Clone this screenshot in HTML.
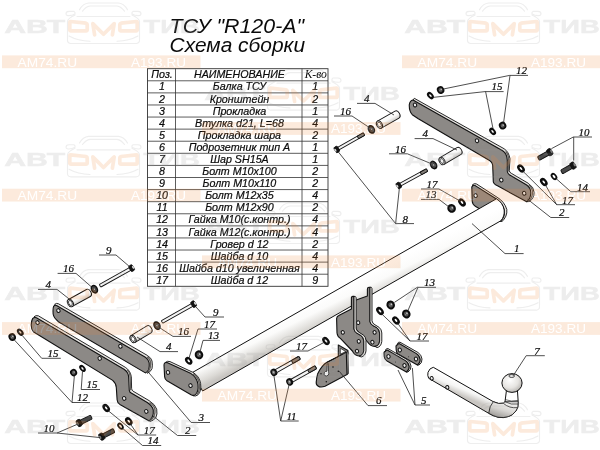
<!DOCTYPE html>
<html lang="ru"><head><meta charset="utf-8"><title>ТСУ R120-A Схема сборки</title>
<style>
html,body{margin:0;padding:0;background:#fff}
body{width:600px;height:450px;overflow:hidden;position:relative;font-family:"Liberation Sans",sans-serif}
svg{position:absolute;left:0;top:0;display:block;will-change:transform;transform:translateZ(0)}
.lb{font-family:"Liberation Serif",serif;font-style:italic;fill:#0a0a0a;stroke:#0a0a0a;stroke-width:.2px}
.ld{fill:none;stroke:#222;stroke-width:.8}
.tt{font-family:"Liberation Sans",sans-serif;font-style:italic;fill:#0a0a0a}
.tc{font-family:"Liberation Sans",sans-serif;font-style:italic;fill:#0a0a0a;font-size:10.7px;text-anchor:middle;stroke:#0a0a0a;stroke-width:.2px}
.ts{font-family:"Liberation Serif",serif;font-style:italic;fill:#0a0a0a;font-size:11.6px;text-anchor:middle}
.pl{fill:#8c8986;stroke:#111;stroke-width:1.1;stroke-linejoin:round}
.ed{fill:#e6e4e1;stroke:#111;stroke-width:.9;stroke-linejoin:round}
.wmg{font-family:"Liberation Sans",sans-serif;font-weight:bold;fill:#9a9a9a;stroke:#9a9a9a;stroke-width:.5}
.wmw{font-family:"Liberation Sans",sans-serif;fill:#fff}
</style></head><body>
<svg width="600" height="450" viewBox="0 0 600 450">
<defs>
<linearGradient id="gBeam" gradientUnits="userSpaceOnUse" x1="340" y1="288" x2="352" y2="312">
<stop offset="0" stop-color="#ffffff"/><stop offset=".4" stop-color="#fbfbfa"/><stop offset=".8" stop-color="#dcdad6"/><stop offset="1" stop-color="#c8c5c1"/></linearGradient>
<linearGradient id="gTubeS" x1="0" y1="0" x2="0" y2="1">
<stop offset="0" stop-color="#ffffff"/><stop offset=".5" stop-color="#f8f8f7"/><stop offset="1" stop-color="#cfccc8"/></linearGradient>
<linearGradient id="gShaft" gradientUnits="userSpaceOnUse" x1="460" y1="381" x2="455" y2="393">
<stop offset="0" stop-color="#ffffff"/><stop offset=".5" stop-color="#f6f6f5"/><stop offset="1" stop-color="#c9c6c2"/></linearGradient>
<linearGradient id="gBend" gradientUnits="userSpaceOnUse" x1="505" y1="402" x2="500" y2="418">
<stop offset="0" stop-color="#f4f3f2"/><stop offset=".5" stop-color="#d6d4d1"/><stop offset="1" stop-color="#9d9a96"/></linearGradient>
<radialGradient id="gBall" cx=".4" cy=".35" r=".75">
<stop offset="0" stop-color="#ffffff"/><stop offset=".55" stop-color="#e6e4e1"/><stop offset="1" stop-color="#a9a6a2"/></radialGradient>
</defs>
<rect width="600" height="450" fill="#fff"/>

<text x="169.6" y="32.5" class="tt" font-size="20" textLength="134.5" lengthAdjust="spacingAndGlyphs">ТСУ "R120-A"</text>
<text x="169.6" y="51.6" class="tt" font-size="20" textLength="135.5" lengthAdjust="spacingAndGlyphs">Схема сборки</text>
<g id="table">
<rect x="147.5" y="68.7" width="180.5" height="217.60000000000002" fill="#fff" stroke="#333" stroke-width=".9"/>
<path d="M147.5 80.79H328M147.5 92.88H328M147.5 104.97H328M147.5 117.06H328M147.5 129.14H328M147.5 141.23H328M147.5 153.32H328M147.5 165.41H328M147.5 177.50H328M147.5 189.59H328M147.5 201.68H328M147.5 213.77H328M147.5 225.86H328M147.5 237.94H328M147.5 250.03H328M147.5 262.12H328M147.5 274.21H328M175.5 68.7V286.3M302 68.7V286.3" fill="none" stroke="#333" stroke-width=".8"/>
<text x="162.10" y="78.39" class="tc">Поз.</text>
<text x="239.45" y="78.39" class="tc">НАИМЕНОВАНИЕ</text>
<text x="315.80" y="78.39" class="ts">К-во</text>
<text x="162.10" y="90.48" class="tc">1</text>
<text x="239.45" y="90.48" class="tc">Балка ТСУ</text>
<text x="315.30" y="90.48" class="tc">1</text>
<text x="162.10" y="102.57" class="tc">2</text>
<text x="239.45" y="102.57" class="tc">Кронштейн</text>
<text x="315.30" y="102.57" class="tc">2</text>
<text x="162.10" y="114.66" class="tc">3</text>
<text x="239.45" y="114.66" class="tc">Прокладка</text>
<text x="315.30" y="114.66" class="tc">1</text>
<text x="162.10" y="126.74" class="tc">4</text>
<text x="239.45" y="126.74" class="tc">Втулка d21, L=68</text>
<text x="315.30" y="126.74" class="tc">4</text>
<text x="162.10" y="138.83" class="tc">5</text>
<text x="239.45" y="138.83" class="tc">Прокладка шара</text>
<text x="315.30" y="138.83" class="tc">2</text>
<text x="162.10" y="150.92" class="tc">6</text>
<text x="239.45" y="150.92" class="tc">Подрозетник тип А</text>
<text x="315.30" y="150.92" class="tc">1</text>
<text x="162.10" y="163.01" class="tc">7</text>
<text x="239.45" y="163.01" class="tc">Шар SH15A</text>
<text x="315.30" y="163.01" class="tc">1</text>
<text x="162.10" y="175.10" class="tc">8</text>
<text x="239.45" y="175.10" class="tc">Болт М10х100</text>
<text x="315.30" y="175.10" class="tc">2</text>
<text x="162.10" y="187.19" class="tc">9</text>
<text x="239.45" y="187.19" class="tc">Болт М10х110</text>
<text x="315.30" y="187.19" class="tc">2</text>
<text x="162.10" y="199.28" class="tc">10</text>
<text x="239.45" y="199.28" class="tc">Болт М12х35</text>
<text x="315.30" y="199.28" class="tc">4</text>
<text x="162.10" y="211.37" class="tc">11</text>
<text x="239.45" y="211.37" class="tc">Болт М12х90</text>
<text x="315.30" y="211.37" class="tc">2</text>
<text x="162.10" y="223.46" class="tc">12</text>
<text x="239.45" y="223.46" class="tc">Гайка М10(с.контр.)</text>
<text x="315.30" y="223.46" class="tc">4</text>
<text x="162.10" y="235.54" class="tc">13</text>
<text x="239.45" y="235.54" class="tc">Гайка М12(с.контр.)</text>
<text x="315.30" y="235.54" class="tc">4</text>
<text x="162.10" y="247.63" class="tc">14</text>
<text x="239.45" y="247.63" class="tc">Гровер d 12</text>
<text x="315.30" y="247.63" class="tc">2</text>
<text x="162.10" y="259.72" class="tc">15</text>
<text x="239.45" y="259.72" class="tc">Шайба d 10</text>
<text x="315.30" y="259.72" class="tc">4</text>
<text x="162.10" y="271.81" class="tc">16</text>
<text x="239.45" y="271.81" class="tc">Шайба d10 увеличенная</text>
<text x="315.30" y="271.81" class="tc">4</text>
<text x="162.10" y="283.90" class="tc">17</text>
<text x="239.45" y="283.90" class="tc">Шайба d 12</text>
<text x="315.30" y="283.90" class="tc">9</text>
</g>
<g id="drawing">
<path class="ed" d="M413 100L414.3 98.3L504 148.7Q508.7 151.5 510 158.7L509.3 170.7Q509.6 172.6 511.3 173.3L528.3 183.3Q534 187 534.2 192.5Q534 198.5 529.5 201.5L526.7 201.7L524 195L500 176L500 156L420 106Z"/>
<path class="pl" d="M413 100L502.7 150.7Q506.9 153.4 507.3 160L507.3 171.3Q507.5 173.6 509.3 174.7L526.7 185Q531 188 530.8 193.3Q530.4 199.4 526.7 201.7L497.5 185.8Q493.4 183.6 493.3 181.7L492.7 165.5Q492.4 162 488.7 160L418.3 118.7L412.3 114.7Q409 111 409.3 104.7Q410 100.4 413 100Z"/>
<ellipse cx="415" cy="105" rx="1.66" ry="1.95" transform="rotate(-25 415 105)" fill="#efefef" stroke="#111" stroke-width="1"/>
<ellipse cx="477" cy="140.7" rx="1.66" ry="1.95" transform="rotate(-25 477 140.7)" fill="#efefef" stroke="#111" stroke-width="1"/>
<ellipse cx="501.3" cy="180" rx="1.66" ry="1.95" transform="rotate(-25 501.3 180)" fill="#efefef" stroke="#111" stroke-width="1"/>
<ellipse cx="524.2" cy="193.3" rx="1.66" ry="1.95" transform="rotate(-25 524.2 193.3)" fill="#efefef" stroke="#111" stroke-width="1"/>
<path class="ed" d="M472.6 184.6Q474.6 183 476.6 184L497 197.2Q504.5 201.5 506.800 209.5Q507.6 216.5 501.5 222L497 214L473 190Z"/>
<path class="pl" d="M471.8 187Q472.800 184.6 475.2 185.6L496 198.800Q503 203.5 504.4 210.5Q505 217 500.5 221.400L475.3 206.2Q472.4 204.400 472.2 201Z"/>
<ellipse cx="475.6" cy="195.6" rx="1.66" ry="1.95" transform="rotate(-25 475.6 195.6)" fill="#efefef" stroke="#111" stroke-width="1"/>
<path d="M496.4 198.800Q502.800 202.5 504.2 210Q504.800 216.5 500.800 220.800L202.6 391Q198 385 197.6 379Q196.6 374.4 192.6 372.4Z" fill="url(#gBeam)" stroke="#111" stroke-width="1" stroke-linejoin="round"/>
<path class="ed" d="M165.4 362.4Q167.4 360.6 170 361.6L192.6 372.2Q199.4 376 200.6 383.4Q201.6 391.4 198 394.8Q195.8 396.6 193 395.8L190 392L166 366Z"/>
<path class="pl" d="M164 365Q164.2 362 167 362.6L191 373.6Q197 377.4 198 384.4Q198.8 391.6 195.4 394.6Q193.6 396 191 394.8L167 380.8Q164.8 379.4 164.6 376.6Z"/>
<ellipse cx="168" cy="372.4" rx="1.66" ry="1.95" transform="rotate(-25 168 372.4)" fill="#efefef" stroke="#111" stroke-width="1"/>
<ellipse cx="190.5" cy="385.6" rx="1.66" ry="1.95" transform="rotate(-25 190.5 385.6)" fill="#efefef" stroke="#111" stroke-width="1"/>
<path class="pl" d="M367.4 289.2Q367.2 287.4 369 287.2L370 287.2L370 321.6Q370.4 324.4 373 325.6L377 327.8Q379.4 329.6 379.6 333L379.6 341Q379.2 346 375 346.4Q370.6 346.6 367.6 342L356.6 330L352 318L353.4 301L367.4 296Z"/>
<path class="ed" d="M370 287.2Q371.8 286.8 372 288.6L372 320.8Q372.4 323.6 375 324.8L379.2 327.4Q381.6 329.4 381.8 333L381.8 341.4Q381.2 346.8 377 347.6L375 346.4Q379.2 346 379.6 341L379.6 333Q379.4 329.6 377 327.8L373 325.6Q370.4 324.4 370 321.6Z"/>
<ellipse cx="358.2" cy="322.7" rx="1.57" ry="1.85" transform="rotate(-25 358.2 322.7)" fill="#efefef" stroke="#111" stroke-width="1"/>
<ellipse cx="374.6" cy="332.4" rx="1.57" ry="1.85" transform="rotate(-25 374.6 332.4)" fill="#efefef" stroke="#111" stroke-width="1"/>
<ellipse cx="372.4" cy="342.2" rx="1.57" ry="1.85" transform="rotate(-25 372.4 342.2)" fill="#efefef" stroke="#111" stroke-width="1"/>
<path class="pl" d="M351.4 298.2Q351.2 296.6 353 296.4L354 296.4L354 329Q354.4 332 357 333.2L361.4 335.8Q363.6 337.6 363.8 341L363.8 350.6Q363.2 355.6 359 356Q354.6 355.6 352.4 351L340.4 338.4Q337.4 336.6 337 333L336.6 318.6Q336.8 316.4 338.8 315.6L351.4 309Z"/>
<path class="ed" d="M354 296.4Q355.8 296 356.2 297.8L356.2 328.4Q356.6 331.2 359.2 332.4L363.6 335.2Q365.8 337 366 340.4L366 350.8Q365.4 356 361.2 357L359 356Q363.2 355.6 363.8 350.6L363.8 341Q363.6 337.6 361.4 335.8L357 333.2Q354.4 332 354 329Z"/>
<ellipse cx="342.8" cy="332.4" rx="1.57" ry="1.85" transform="rotate(-25 342.8 332.4)" fill="#efefef" stroke="#111" stroke-width="1"/>
<ellipse cx="358.8" cy="341.3" rx="1.57" ry="1.85" transform="rotate(-25 358.8 341.3)" fill="#efefef" stroke="#111" stroke-width="1"/>
<ellipse cx="357" cy="351.1" rx="1.57" ry="1.85" transform="rotate(-25 357 351.1)" fill="#efefef" stroke="#111" stroke-width="1"/>
<path class="pl" d="M338.3 345L347.9 350.5L347.9 354L338.3 357Z"/>
<path d="M340.3 348.2L345.8 351.6L340.3 354.2Z" fill="#fff" stroke="#111" stroke-width=".7" stroke-linejoin="round"/>
<path class="ed" d="M346.3 352.3L347.9 351.6L348.3 373.7L347 374.4Z"/>
<path class="pl" d="M327 362.3L346.3 352.3L347 374.4L325 386.3Q320.6 387.8 318.3 386.3Q315.600 384.6 316.3 381.7Q316.6 377.6 317.7 373.7Q319.6 369.4 322.3 366.3Q324.4 363.800 327 362.300Z"/>
<path d="M327 362.3L338.3 356.600" fill="none" stroke="#111" stroke-width=".9"/>
<path d="M327.2 364L328.3 363.5L328.5 371.7Q329.2 373.2 328.3 375Q326.800 376.6 325 375.7Q323.6 374.4 324.4 372.600Q325.2 371.2 327 371.200Z" fill="#f3f3f3" stroke="#111" stroke-width=".7" stroke-linejoin="round"/>
<circle cx="321" cy="373.7" r=".75" fill="#111"/>
<circle cx="333" cy="367" r=".75" fill="#111"/>
<circle cx="326.3" cy="381.7" r=".75" fill="#111"/>
<circle cx="338.3" cy="371.3" r=".75" fill="#111"/>
<path class="ed" d="M397.5 343.5Q398.2 341.8 400 342.2L418 352.5Q421.6 354.8 422 359Q422.2 363.4 419 365L417 365L410 358L398 350Z"/>
<path class="pl" d="M397.4 344.9Q398 343.3 399.6 343.7L416.4 353.6Q419.8 355.8 420.2 359.6Q420.2 363.4 417.4 365L398 354Q396.4 352.8 396.2 350L396 346.1Q396.2 345.1 397.4 344.9Z"/>
<ellipse cx="399.8" cy="350" rx="1.61" ry="1.9" transform="rotate(-25 399.8 350)" fill="#efefef" stroke="#111" stroke-width="1"/>
<ellipse cx="416" cy="359" rx="1.61" ry="1.9" transform="rotate(-25 416 359)" fill="#efefef" stroke="#111" stroke-width="1"/>
<circle cx="408.6" cy="356.8" r=".5" fill="#222"/>
<path class="ed" d="M385.5 350Q386.2 348.2 388 348.6L407 359.5Q410.4 361.800 411 366Q411.2 370.2 408 372L406 372L399 365L386 357Z"/>
<path class="pl" d="M385.4 351.4Q386 349.8 387.6 350.2L405.4 360.6Q408.800 362.800 409.2 366.6Q409.2 370.4 406.4 372L387 361Q384.4 359.4 384.2 356.5L384 352.6Q384.2 351.6 385.4 351.4Z"/>
<ellipse cx="388.5" cy="356.5" rx="1.61" ry="1.9" transform="rotate(-25 388.5 356.5)" fill="#efefef" stroke="#111" stroke-width="1"/>
<ellipse cx="404.5" cy="365.5" rx="1.61" ry="1.9" transform="rotate(-25 404.5 365.5)" fill="#efefef" stroke="#111" stroke-width="1"/>
<circle cx="395.5" cy="362" r=".5" fill="#222"/>
<path d="M433.3 367.3L493.3 401.7Q499 404.5 503.4 403.2L505 401.7L506.5 390L517.4 390L518.2 401.7Q518.6 408 515.9 411Q512.5 415.5 508.9 416.4Q503 418.4 498 417.2Q493 416 488.7 413.3L428.7 378.3Q427.2 375.5 428 372.3Q429.5 368 433.3 367.3Z" fill="url(#gShaft)" stroke="#111" stroke-width="1" stroke-linejoin="round"/>
<path d="M493.3 401.7Q499 404.5 503.4 403.2L505 401.7L518.2 401.7Q518.6 408 515.9 411Q512.5 415.5 508.9 416.4Q503 418.4 498 417.2Q493 416 488.7 413.3Q489.4 406 493.3 401.7Z" fill="url(#gBend)" stroke="#111" stroke-width=".8" stroke-linejoin="round"/>
<path d="M505 401.7Q511 405.2 518.2 404" fill="none" stroke="#111" stroke-width=".7"/>
<path d="M503.4 403.4Q509.5 408.6 517.4 407.6" fill="none" stroke="#111" stroke-width=".7"/>
<path d="M505.2 399.6Q511 402 518 400.4" fill="none" stroke="#111" stroke-width=".6"/>
<ellipse cx="512" cy="383" rx="10.1" ry="9.4" fill="url(#gBall)" stroke="#111" stroke-width="1"/>
<ellipse cx="511.7" cy="376" rx="2.8" ry="1.5" fill="#e4e4e4" stroke="#111" stroke-width=".7"/>
<ellipse cx="431.7" cy="378.3" rx="1.53" ry="1.8" transform="rotate(-25 431.7 378.3)" fill="#efefef" stroke="#111" stroke-width="1"/>
<ellipse cx="447.3" cy="387.4" rx="1.53" ry="1.8" transform="rotate(-25 447.3 387.4)" fill="#efefef" stroke="#111" stroke-width="1"/>
<path class="ed" d="M54.6 304.4Q56.4 302.8 58.3 303.7L147.3 355.4Q151.6 358.2 152 361Q152.8 365.6 152 368.6Q150.6 372 147.3 373.3L145 368L140 358L60 309Z"/>
<path class="pl" d="M53.6 306.4Q55 304.6 57 305.7L145.4 357.3Q148.800 359.6 149.2 362.9Q149.6 366.6 148.800 369.5Q147.6 372 145.4 372.9L58.3 321.7L56.3 319.7Q52.800 316.6 53 311Q53 308 53.6 306.4Z"/>
<ellipse cx="58.4" cy="310.6" rx="1.66" ry="1.95" transform="rotate(-25 58.4 310.6)" fill="#efefef" stroke="#111" stroke-width="1"/>
<ellipse cx="120.4" cy="346.3" rx="1.66" ry="1.95" transform="rotate(-25 120.4 346.3)" fill="#efefef" stroke="#111" stroke-width="1"/>
<path class="ed" d="M34 316.8Q36 315 38.3 315.8L125.3 367.3Q130.4 370.6 131.3 376.7L131.6 388.4Q131.800 390.4 133.1 391.2L149.2 400.7Q155.4 404.6 156.7 409.2Q157.6 414.4 155.800 417.6Q153.6 420.800 150.1 421.4L148 414L125 393L125 376L40 322Z"/>
<path class="pl" d="M32.6 318.6Q34.2 316.800 36.4 317.800L124 369.3Q128.2 372.2 128.6 376.5L129.3 390.3Q129.6 392.2 131.2 393.1L147.3 402.5Q152.4 405.800 153.3 410.1Q153.800 414.6 152 417.6Q150.800 419.800 149.2 421L119.9 404.4Q117.2 402.6 117.1 399.7L116.3 387.5Q116.2 383.6 112.7 380.4L33.3 331.7Q31.2 329.6 31.2 325Q31.4 320.6 32.6 318.6Z"/>
<ellipse cx="37.5" cy="322.6" rx="1.66" ry="1.95" transform="rotate(-25 37.5 322.6)" fill="#efefef" stroke="#111" stroke-width="1"/>
<ellipse cx="99.7" cy="358.4" rx="1.66" ry="1.95" transform="rotate(-25 99.7 358.4)" fill="#efefef" stroke="#111" stroke-width="1"/>
<ellipse cx="124.2" cy="398.4" rx="1.66" ry="1.95" transform="rotate(-25 124.2 398.4)" fill="#efefef" stroke="#111" stroke-width="1"/>
<ellipse cx="146.3" cy="411.4" rx="1.66" ry="1.95" transform="rotate(-25 146.3 411.4)" fill="#efefef" stroke="#111" stroke-width="1"/>
<path d="M528.6 184.8Q532.800 188 532.5 193Q532 199 528.2 201.4" fill="none" stroke="#64615e" stroke-width="1.4" stroke-linecap="butt"/>
<path d="M147.2 356.9Q150.800 359.5 150.6 364.5Q150.6 370 146.6 372.800" fill="none" stroke="#64615e" stroke-width="1.4" stroke-linecap="butt"/>
<path d="M149.6 402.5Q154.6 405.6 155 410Q155.6 416.5 150 421" fill="none" stroke="#64615e" stroke-width="1.4" stroke-linecap="butt"/>
<path d="M193.2 373.800Q198.6 377 199.3 384Q200 391.5 196.800 394.6" fill="none" stroke="#64615e" stroke-width="1.4" stroke-linecap="butt"/>
<path d="M127.2 369.800Q130 372 130.1 376.6L130.5 390.2" fill="none" stroke="#64615e" stroke-width="1.4" stroke-linecap="butt"/>
<path d="M505.6 151.5Q508.4 154 508.6 159.400L508.3 171.400" fill="none" stroke="#64615e" stroke-width="1.4" stroke-linecap="butt"/>
</g>
<g id="fasteners">
<g transform="rotate(-30 440.6 90)"><ellipse cx="440.6" cy="90" rx="3.67" ry="3.9" fill="#0d0d0d"/><ellipse cx="440.6" cy="90" rx="1.95" ry="2.18" fill="#505050"/><ellipse cx="441.38" cy="89.81" rx="0.66" ry="0.86" fill="#c8c8c8"/><ellipse cx="439.74" cy="90.19" rx="0.47" ry="0.62" fill="#8a8a8a"/></g>
<g transform="rotate(-30 502.6 125.6)"><ellipse cx="502.6" cy="125.6" rx="3.67" ry="3.9" fill="#0d0d0d"/><ellipse cx="502.6" cy="125.6" rx="1.95" ry="2.18" fill="#505050"/><ellipse cx="503.38" cy="125.41" rx="0.66" ry="0.86" fill="#c8c8c8"/><ellipse cx="501.74" cy="125.79" rx="0.47" ry="0.62" fill="#8a8a8a"/></g>
<g transform="rotate(-40 430.4 95.6)"><ellipse cx="430.4" cy="95.6" rx="2.7" ry="4.2" fill="#0d0d0d"/><ellipse cx="430.4" cy="95.6" rx="0.81" ry="1.68" fill="#fff"/></g>
<g transform="rotate(-40 492.6 131.4)"><ellipse cx="492.6" cy="131.4" rx="2.7" ry="4.2" fill="#0d0d0d"/><ellipse cx="492.6" cy="131.4" rx="0.81" ry="1.68" fill="#fff"/></g>
<g transform="translate(549.4 152.4) rotate(150.59)">
<rect x="0" y="-2.1" width="12.63" height="4.2" rx="1.05" fill="#4a4a4a" stroke="#111" stroke-width=".9"/>
<rect x="-2.80" y="-3.5" width="4.6" height="7" rx="1.6" fill="#141414" stroke="#0d0d0d" stroke-width=".8"/>
<ellipse cx="-2.30" cy="0" rx="1.1" ry="1.82" fill="#7a7a7a"/>
</g>
<g transform="translate(572.6 165.8) rotate(150.59)">
<rect x="0" y="-2.1" width="12.63" height="4.2" rx="1.05" fill="#4a4a4a" stroke="#111" stroke-width=".9"/>
<rect x="-2.80" y="-3.5" width="4.6" height="7" rx="1.6" fill="#141414" stroke="#0d0d0d" stroke-width=".8"/>
<ellipse cx="-2.30" cy="0" rx="1.1" ry="1.82" fill="#7a7a7a"/>
</g>
<g transform="rotate(-40 521 168.5)"><ellipse cx="521" cy="168.5" rx="3.1" ry="4.6" fill="#0d0d0d"/><ellipse cx="521" cy="168.5" rx="0.93" ry="1.84" fill="#fff"/></g>
<g transform="rotate(-40 543.8 182)"><ellipse cx="543.8" cy="182" rx="3.1" ry="4.6" fill="#0d0d0d"/><ellipse cx="543.8" cy="182" rx="0.93" ry="1.84" fill="#fff"/></g>
<g transform="rotate(-40 554 176.5)"><ellipse cx="554" cy="176.5" rx="2.7" ry="4.0" fill="#0d0d0d"/><ellipse cx="554" cy="176.5" rx="1.01" ry="2.00" fill="#fff"/></g>
<g transform="translate(379.4 124.6) rotate(-29.60)">
<path d="M0 -4.0H20.24A2.7 4.0 0 0 1 20.24 4.0H0Z" fill="url(#gTubeS)" stroke="#111" stroke-width=".9"/>
<ellipse cx="0" cy="0" rx="2.7" ry="4.0" fill="#fafafa" stroke="#111" stroke-width=".9"/>
<ellipse cx="0" cy="0" rx="1.6740000000000002" ry="2.64" fill="#fff" stroke="#111" stroke-width=".7"/>
</g>
<g transform="translate(442 161) rotate(-30.47)">
<path d="M0 -4.0H19.72A2.7 4.0 0 0 1 19.72 4.0H0Z" fill="url(#gTubeS)" stroke="#111" stroke-width=".9"/>
<ellipse cx="0" cy="0" rx="2.7" ry="4.0" fill="#fafafa" stroke="#111" stroke-width=".9"/>
<ellipse cx="0" cy="0" rx="1.6740000000000002" ry="2.64" fill="#fff" stroke="#111" stroke-width=".7"/>
</g>
<g transform="rotate(-30 371.4 129.4)"><ellipse cx="371.4" cy="129.4" rx="3.5" ry="4.7" fill="#0d0d0d"/><ellipse cx="371.4" cy="129.4" rx="2.1" ry="3.0" fill="#4a4a4a"/><ellipse cx="371.4" cy="129.4" rx="0.9" ry="1.4" fill="#b8b8b8" stroke="#111" stroke-width=".5"/></g>
<g transform="rotate(-30 433.6 165)"><ellipse cx="433.6" cy="165" rx="3.5" ry="4.7" fill="#0d0d0d"/><ellipse cx="433.6" cy="165" rx="2.1" ry="3.0" fill="#4a4a4a"/><ellipse cx="433.6" cy="165" rx="0.9" ry="1.4" fill="#b8b8b8" stroke="#111" stroke-width=".5"/></g>
<g transform="translate(337.2 149.2) rotate(-29.56)">
<rect x="0" y="-1.45" width="30.81" height="2.9" rx="0.725" fill="#f4f4f4" stroke="#111" stroke-width=".9"/>
<rect x="23.81" y="-1.45" width="7.00" height="2.9" rx="0.725" fill="#85807b" stroke="#111" stroke-width=".9"/>
<rect x="-2.60" y="-3.1" width="4.2" height="6.2" rx="1.6" fill="#141414" stroke="#0d0d0d" stroke-width=".8"/>
<ellipse cx="-2.10" cy="0" rx="0.9" ry="1.61" fill="#d8d8d8"/>
</g>
<g transform="translate(399.2 185.2) rotate(-28.67)">
<rect x="0" y="-1.45" width="31.68" height="2.9" rx="0.725" fill="#f4f4f4" stroke="#111" stroke-width=".9"/>
<rect x="24.68" y="-1.45" width="7.00" height="2.9" rx="0.725" fill="#85807b" stroke="#111" stroke-width=".9"/>
<rect x="-2.60" y="-3.1" width="4.2" height="6.2" rx="1.6" fill="#141414" stroke="#0d0d0d" stroke-width=".8"/>
<ellipse cx="-2.10" cy="0" rx="0.9" ry="1.61" fill="#d8d8d8"/>
</g>
<g transform="rotate(-40 462 202.4)"><ellipse cx="462" cy="202.4" rx="3.1" ry="4.6" fill="#0d0d0d"/><ellipse cx="462" cy="202.4" rx="0.93" ry="1.84" fill="#fff"/></g>
<g transform="rotate(-30 451.6 208.4)"><ellipse cx="451.6" cy="208.4" rx="4.23" ry="4.5" fill="#0d0d0d"/><ellipse cx="451.6" cy="208.4" rx="2.25" ry="2.52" fill="#505050"/><ellipse cx="452.50" cy="208.18" rx="0.77" ry="0.99" fill="#c8c8c8"/><ellipse cx="450.61" cy="208.62" rx="0.54" ry="0.72" fill="#8a8a8a"/></g>
<g transform="translate(131.2 268.4) rotate(150.85)">
<rect x="0" y="-1.5" width="35.72" height="3.0" rx="0.75" fill="#f4f4f4" stroke="#111" stroke-width=".9"/>
<rect x="-2.60" y="-3.2" width="4.2" height="6.4" rx="1.6" fill="#141414" stroke="#0d0d0d" stroke-width=".8"/>
<ellipse cx="-2.10" cy="0" rx="0.9" ry="1.66" fill="#d8d8d8"/>
</g>
<g transform="rotate(-30 94.4 289.2)"><ellipse cx="94.4" cy="289.2" rx="3.5" ry="4.7" fill="#0d0d0d"/><ellipse cx="94.4" cy="289.2" rx="2.1" ry="3.0" fill="#4a4a4a"/><ellipse cx="94.4" cy="289.2" rx="0.9" ry="1.4" fill="#b8b8b8" stroke="#111" stroke-width=".5"/></g>
<g transform="translate(70.4 303) rotate(-29.05)">
<path d="M0 -4.0H20.59A2.7 4.0 0 0 1 20.59 4.0H0Z" fill="url(#gTubeS)" stroke="#111" stroke-width=".9"/>
<ellipse cx="0" cy="0" rx="2.7" ry="4.0" fill="#fafafa" stroke="#111" stroke-width=".9"/>
<ellipse cx="0" cy="0" rx="1.6740000000000002" ry="2.64" fill="#fff" stroke="#111" stroke-width=".7"/>
</g>
<g transform="translate(193.2 304.4) rotate(150.57)">
<rect x="0" y="-1.5" width="35.82" height="3.0" rx="0.75" fill="#f4f4f4" stroke="#111" stroke-width=".9"/>
<rect x="-2.60" y="-3.2" width="4.2" height="6.4" rx="1.6" fill="#141414" stroke="#0d0d0d" stroke-width=".8"/>
<ellipse cx="-2.10" cy="0" rx="0.9" ry="1.66" fill="#d8d8d8"/>
</g>
<g transform="rotate(-30 157 325.6)"><ellipse cx="157" cy="325.6" rx="3.5" ry="4.7" fill="#0d0d0d"/><ellipse cx="157" cy="325.6" rx="2.1" ry="3.0" fill="#4a4a4a"/><ellipse cx="157" cy="325.6" rx="0.9" ry="1.4" fill="#b8b8b8" stroke="#111" stroke-width=".5"/></g>
<g transform="translate(133 339) rotate(-30.96)">
<path d="M0 -4.0H18.66A2.7 4.0 0 0 1 18.66 4.0H0Z" fill="url(#gTubeS)" stroke="#111" stroke-width=".9"/>
<ellipse cx="0" cy="0" rx="2.7" ry="4.0" fill="#fafafa" stroke="#111" stroke-width=".9"/>
<ellipse cx="0" cy="0" rx="1.6740000000000002" ry="2.64" fill="#fff" stroke="#111" stroke-width=".7"/>
</g>
<g transform="rotate(-40 188.7 360.8)"><ellipse cx="188.7" cy="360.8" rx="3.0" ry="4.4" fill="#0d0d0d"/><ellipse cx="188.7" cy="360.8" rx="0.90" ry="1.76" fill="#fff"/></g>
<g transform="rotate(-30 199 354.8)"><ellipse cx="199" cy="354.8" rx="4.23" ry="4.5" fill="#0d0d0d"/><ellipse cx="199" cy="354.8" rx="2.25" ry="2.52" fill="#505050"/><ellipse cx="199.90" cy="354.57" rx="0.77" ry="0.99" fill="#c8c8c8"/><ellipse cx="198.01" cy="355.03" rx="0.54" ry="0.72" fill="#8a8a8a"/></g>
<g transform="rotate(-30 12.2 337)"><ellipse cx="12.2" cy="337" rx="3.67" ry="3.9" fill="#0d0d0d"/><ellipse cx="12.2" cy="337" rx="1.95" ry="2.18" fill="#505050"/><ellipse cx="12.98" cy="336.81" rx="0.66" ry="0.86" fill="#c8c8c8"/><ellipse cx="11.34" cy="337.19" rx="0.47" ry="0.62" fill="#8a8a8a"/></g>
<g transform="rotate(-40 20.3 332.2)"><ellipse cx="20.3" cy="332.2" rx="2.7" ry="4.1" fill="#0d0d0d"/><ellipse cx="20.3" cy="332.2" rx="0.81" ry="1.64" fill="#e8d9cc"/></g>
<g transform="rotate(-30 73.6 372.6)"><ellipse cx="73.6" cy="372.6" rx="3.48" ry="3.7" fill="#0d0d0d"/><ellipse cx="73.6" cy="372.6" rx="1.85" ry="2.07" fill="#505050"/><ellipse cx="74.34" cy="372.42" rx="0.63" ry="0.81" fill="#c8c8c8"/><ellipse cx="72.79" cy="372.79" rx="0.44" ry="0.59" fill="#8a8a8a"/></g>
<g transform="rotate(-40 82.5 368.4)"><ellipse cx="82.5" cy="368.4" rx="2.6" ry="4.0" fill="#0d0d0d"/><ellipse cx="82.5" cy="368.4" rx="0.78" ry="1.60" fill="#fff"/></g>
<g transform="rotate(-40 106.2 408)"><ellipse cx="106.2" cy="408" rx="3.1" ry="4.5" fill="#0d0d0d"/><ellipse cx="106.2" cy="408" rx="0.93" ry="1.80" fill="#fff"/></g>
<g transform="rotate(-40 128.8 421.2)"><ellipse cx="128.8" cy="421.2" rx="3.1" ry="4.5" fill="#0d0d0d"/><ellipse cx="128.8" cy="421.2" rx="0.93" ry="1.80" fill="#fff"/></g>
<g transform="rotate(-40 120.5 426.2)"><ellipse cx="120.5" cy="426.2" rx="2.6" ry="3.9" fill="#0d0d0d"/><ellipse cx="120.5" cy="426.2" rx="0.98" ry="1.95" fill="#f3e6dc"/></g>
<g transform="translate(79.6 422.8) rotate(-26.18)">
<rect x="0" y="-2.1" width="13.15" height="4.2" rx="1.05" fill="#4a4a4a" stroke="#111" stroke-width=".9"/>
<rect x="-2.80" y="-3.5" width="4.6" height="7" rx="1.6" fill="#141414" stroke="#0d0d0d" stroke-width=".8"/>
<ellipse cx="-2.30" cy="0" rx="1.1" ry="1.82" fill="#7a7a7a"/>
</g>
<g transform="translate(102.2 436.4) rotate(-26.95)">
<rect x="0" y="-2.1" width="13.24" height="4.2" rx="1.05" fill="#4a4a4a" stroke="#111" stroke-width=".9"/>
<rect x="-2.80" y="-3.5" width="4.6" height="7" rx="1.6" fill="#141414" stroke="#0d0d0d" stroke-width=".8"/>
<ellipse cx="-2.30" cy="0" rx="1.1" ry="1.82" fill="#7a7a7a"/>
</g>
<g transform="translate(274.4 372) rotate(-29.40)">
<rect x="0" y="-1.65" width="28.93" height="3.3" rx="0.825" fill="#f4f4f4" stroke="#111" stroke-width=".9"/>
<rect x="20.43" y="-1.65" width="8.50" height="3.3" rx="0.825" fill="#85807b" stroke="#111" stroke-width=".9"/>
<ellipse cx="-0.6" cy="0" rx="3.31" ry="3.80" fill="#0d0d0d"/>
<ellipse cx="-1.0" cy="0" rx="1.64" ry="2.05" fill="#6e6e6e"/>
<ellipse cx="-0.7" cy="-0.2" rx="0.62" ry="0.76" fill="#cfcfcf"/>
</g>
<g transform="translate(290.2 381.6) rotate(-29.36)">
<rect x="0" y="-1.65" width="29.37" height="3.3" rx="0.825" fill="#f4f4f4" stroke="#111" stroke-width=".9"/>
<rect x="20.87" y="-1.65" width="8.50" height="3.3" rx="0.825" fill="#85807b" stroke="#111" stroke-width=".9"/>
<ellipse cx="-0.6" cy="0" rx="3.31" ry="3.80" fill="#0d0d0d"/>
<ellipse cx="-1.0" cy="0" rx="1.64" ry="2.05" fill="#6e6e6e"/>
<ellipse cx="-0.7" cy="-0.2" rx="0.62" ry="0.76" fill="#cfcfcf"/>
</g>
<g transform="rotate(-40 326 341)"><ellipse cx="326" cy="341" rx="3.1" ry="4.5" fill="#0d0d0d"/><ellipse cx="326" cy="341" rx="0.93" ry="1.80" fill="#fff"/></g>
<g transform="rotate(-30 390.7 305)"><ellipse cx="390.7" cy="305" rx="4.23" ry="4.5" fill="#0d0d0d"/><ellipse cx="390.7" cy="305" rx="2.25" ry="2.52" fill="#505050"/><ellipse cx="391.60" cy="304.77" rx="0.77" ry="0.99" fill="#c8c8c8"/><ellipse cx="389.71" cy="305.23" rx="0.54" ry="0.72" fill="#8a8a8a"/></g>
<g transform="rotate(-30 406.3 314)"><ellipse cx="406.3" cy="314" rx="4.23" ry="4.5" fill="#0d0d0d"/><ellipse cx="406.3" cy="314" rx="2.25" ry="2.52" fill="#505050"/><ellipse cx="407.20" cy="313.77" rx="0.77" ry="0.99" fill="#c8c8c8"/><ellipse cx="405.31" cy="314.23" rx="0.54" ry="0.72" fill="#8a8a8a"/></g>
<g transform="rotate(-40 380 311)"><ellipse cx="380" cy="311" rx="3.1" ry="4.6" fill="#0d0d0d"/><ellipse cx="380" cy="311" rx="0.93" ry="1.84" fill="#fff"/></g>
<g transform="rotate(-40 396 320.4)"><ellipse cx="396" cy="320.4" rx="3.1" ry="4.6" fill="#0d0d0d"/><ellipse cx="396" cy="320.4" rx="0.93" ry="1.84" fill="#fff"/></g>
</g>
<g id="labels">
<text x="516" y="74.4" class="lb" font-size="11">12</text>
<path class="ld" d="M509.6 75.4H528"/>
<path class="ld" d="M509.6 75.4L443.4 89"/>
<path class="ld" d="M510 75.4L503.6 122.6"/>
<text x="491.4" y="90.4" class="lb" font-size="11">15</text>
<path class="ld" d="M485 91.6H503.6"/>
<path class="ld" d="M485 91.6L433 97.4"/>
<path class="ld" d="M485.6 91.6L493 128.6"/>
<text x="578.4" y="135.6" class="lb" font-size="11">10</text>
<path class="ld" d="M573.3 137H592"/>
<path class="ld" d="M573.3 137L551.4 148.7"/>
<path class="ld" d="M573.7 137L573.7 160.6"/>
<text x="577" y="190.6" class="lb" font-size="11">14</text>
<path class="ld" d="M570.8 191.7H590"/>
<path class="ld" d="M570.8 191.7L555.8 178.3"/>
<text x="562" y="203.6" class="lb" font-size="11">17</text>
<path class="ld" d="M556.7 204.7H575"/>
<path class="ld" d="M556.7 204.7L522.5 170.8"/>
<path class="ld" d="M556.7 204.7L545 184.2"/>
<text x="559" y="216.4" class="lb" font-size="11">2</text>
<path class="ld" d="M550.8 217.5H569.2"/>
<path class="ld" d="M550.8 217.5L527.5 199.2"/>
<text x="514" y="252.4" class="lb" font-size="11">1</text>
<path class="ld" d="M505 253.6H523.6"/>
<path class="ld" d="M505 253.6L472 223.6"/>
<text x="364" y="102.2" class="lb" font-size="11">4</text>
<path class="ld" d="M357 103.4H375"/>
<path class="ld" d="M375 103.4L394 115"/>
<text x="340" y="114.8" class="lb" font-size="11">16</text>
<path class="ld" d="M334 116H352"/>
<path class="ld" d="M352 116L370 128"/>
<text x="422.6" y="137.4" class="lb" font-size="11">4</text>
<path class="ld" d="M414.6 138.6H433"/>
<path class="ld" d="M433 138.6L457 150"/>
<text x="395" y="152.6" class="lb" font-size="11">16</text>
<path class="ld" d="M389 153.8H407.4"/>
<path class="ld" d="M407.4 153.8L431 163.6"/>
<text x="426.4" y="188" class="lb" font-size="11">17</text>
<path class="ld" d="M421 189H439"/>
<path class="ld" d="M439 189L460 201"/>
<text x="425.6" y="198.4" class="lb" font-size="11">13</text>
<path class="ld" d="M421 199.4H439"/>
<path class="ld" d="M439 199.4L449 207"/>
<text x="402.6" y="222.6" class="lb" font-size="11">8</text>
<path class="ld" d="M395.6 223.6H414"/>
<path class="ld" d="M395.6 223.6L338.4 152"/>
<path class="ld" d="M395.6 223.6L399.4 188"/>
<text x="106" y="254" class="lb" font-size="11">9</text>
<path class="ld" d="M99 255H116"/>
<path class="ld" d="M116 255L130 267"/>
<text x="63" y="272" class="lb" font-size="11">16</text>
<path class="ld" d="M57.6 273.4H76"/>
<path class="ld" d="M76 273.4L92 287.4"/>
<text x="45.4" y="288.4" class="lb" font-size="11">4</text>
<path class="ld" d="M38 289.4H57"/>
<path class="ld" d="M57 289.4L73 302"/>
<text x="213" y="315.8" class="lb" font-size="11">9</text>
<path class="ld" d="M205 317H224"/>
<path class="ld" d="M205 317L196 307"/>
<text x="178" y="335.2" class="lb" font-size="11">16</text>
<path class="ld" d="M173 336.4H191"/>
<path class="ld" d="M173 336.4L160 328"/>
<text x="166" y="350.4" class="lb" font-size="11">4</text>
<path class="ld" d="M160 351.6H178"/>
<path class="ld" d="M160 351.6L137 337"/>
<text x="204" y="328" class="lb" font-size="11">17</text>
<path class="ld" d="M198 329H217"/>
<path class="ld" d="M198 329L189 358"/>
<text x="208" y="339.2" class="lb" font-size="11">13</text>
<path class="ld" d="M203 340.4H220"/>
<path class="ld" d="M203 340.4L200 352"/>
<text x="47.4" y="357.2" class="lb" font-size="11">15</text>
<path class="ld" d="M41.7 358.3H60.8"/>
<path class="ld" d="M41.7 358.3L22.5 335.8"/>
<text x="86.4" y="388.4" class="lb" font-size="11">15</text>
<path class="ld" d="M81.2 389.5H100"/>
<path class="ld" d="M81.2 389.5L82.5 371.4"/>
<text x="77" y="401.4" class="lb" font-size="11">12</text>
<path class="ld" d="M72 402.5H90"/>
<path class="ld" d="M72 402.5L14.4 340"/>
<path class="ld" d="M72 402.5L74.4 375.6"/>
<text x="43.6" y="432" class="lb" font-size="11">10</text>
<path class="ld" d="M38 433H57"/>
<path class="ld" d="M57 433L78 424"/>
<path class="ld" d="M57 433L100 437.6"/>
<text x="143.8" y="434" class="lb" font-size="11">17</text>
<path class="ld" d="M138 435H156.2"/>
<path class="ld" d="M138 435L108.6 411"/>
<path class="ld" d="M138 435L130.4 424"/>
<text x="147.6" y="444.4" class="lb" font-size="11">14</text>
<path class="ld" d="M142.5 445.5H161.2"/>
<path class="ld" d="M142.5 445.5L122.4 428.2"/>
<text x="185" y="434.4" class="lb" font-size="11">2</text>
<path class="ld" d="M177.5 435.5H196.2"/>
<path class="ld" d="M177.5 435.5L152.5 415.5"/>
<text x="198.6" y="421.4" class="lb" font-size="11">3</text>
<path class="ld" d="M191.2 422.5H210"/>
<path class="ld" d="M191.2 422.5L147.5 371.2"/>
<text x="296" y="350" class="lb" font-size="11">17</text>
<path class="ld" d="M290 351H308"/>
<path class="ld" d="M308 351L324 342.4"/>
<text x="286.4" y="420" class="lb" font-size="11">11</text>
<path class="ld" d="M280.7 421H298.7"/>
<path class="ld" d="M280.7 421L274 376"/>
<path class="ld" d="M280.7 421L289 385"/>
<text x="376" y="404.4" class="lb" font-size="11">6</text>
<path class="ld" d="M368 405.6H387"/>
<path class="ld" d="M368 405.6L339 371"/>
<text x="421" y="403.8" class="lb" font-size="11">5</text>
<path class="ld" d="M415 405H430"/>
<path class="ld" d="M415 405L398 370"/>
<path class="ld" d="M415 405L412.4 368"/>
<text x="416.4" y="340" class="lb" font-size="11">17</text>
<path class="ld" d="M410 341H429"/>
<path class="ld" d="M410 341L381.4 313.6"/>
<path class="ld" d="M410 341L397.6 323"/>
<text x="424" y="286" class="lb" font-size="11">13</text>
<path class="ld" d="M417.3 287.3H436"/>
<path class="ld" d="M417.3 287.3L394.4 302.4"/>
<path class="ld" d="M418 287.3L408 310.4"/>
<text x="534.2" y="354.6" class="lb" font-size="11">7</text>
<path class="ld" d="M526.2 355.7H544.8"/>
<path class="ld" d="M526.2 355.7L513.3 375.5"/>
</g>
<defs><g id="wm">
<g fill="none" stroke="#9c9c9c" stroke-width="1.1" stroke-linecap="round" stroke-linejoin="round"><path d="M79.5 9.7Q83 3.500 88.500 3H118.500Q124 3.500 127.500 9.700"/><path d="M82.500 11.200Q86 6.500 90 6H117Q121 6.500 124.500 11.200"/><path d="M66 14Q66 11.400 69 11.400H74Q75.500 12 75 14Q72 15.800 68 15.600Q66 15.400 66 14Z"/><path d="M141 14Q141 11.400 138 11.400H133Q131.500 12 132 14Q135 15.800 139 15.600Q141 15.400 141 14Z"/><path d="M77 16.500H130"/><path d="M75 15Q68.500 18 67.500 21V39Q67 43 70.500 43.500H136.500Q140 43 139.500 39V21Q138.500 18 132 15"/><path d="M69 36Q78 41 90 41.200M138 36Q129 41 117 41.200"/></g>
<text class="wmg" transform="translate(4.2 33) scale(1.62 1)" font-size="18.2" x="0" y="0" textLength="37.6" lengthAdjust="spacingAndGlyphs">АВТ</text>
<text class="wmg" transform="translate(143.6 33) scale(1.62 1)" font-size="18.2" x="0" y="0" textLength="34.6" lengthAdjust="spacingAndGlyphs">ТИВ</text>
<g fill="none" stroke="#ee8a3c" stroke-width="3.7" stroke-linejoin="round" stroke-linecap="round"><path d="M70.500 21.500L86 23.200Q87.200 23.400 87.200 25V29.500Q87.200 30.800 86 30.800H71Q69.800 30.800 69.800 29.500V22.500Q69.800 21.500 70.500 21.500Z"/><path d="M136.500 21.500L121 23.200Q119.800 23.400 119.800 25V29.500Q119.800 30.800 121 30.800H136Q137.200 30.800 137.200 29.500V22.500Q137.200 21.500 136.500 21.500Z"/><path d="M94.600 34.800L92.800 23.600L103.500 34.200L114.200 23.600L112.400 34.800"/></g>
<rect x="2" y="55.400" width="198.500" height="12.800" fill="#ee8a3c"/>
<text class="wmw" x="17.600" y="66.500" font-size="12.600" textLength="59.500" lengthAdjust="spacingAndGlyphs">AM74.RU</text>
<text class="wmw" x="131" y="66.500" font-size="12.600" textLength="55" lengthAdjust="spacingAndGlyphs">A193.RU</text>
</g></defs>
<g id="watermark" opacity=".18">
<use href="#wm" x="0" y="0.00"/>
<use href="#wm" x="0" y="133.33"/>
<use href="#wm" x="0" y="266.67"/>
<use href="#wm" x="0" y="400.00"/>
<use href="#wm" x="200" y="66.67"/>
<use href="#wm" x="200" y="200.00"/>
<use href="#wm" x="200" y="333.33"/>
<use href="#wm" x="400" y="0.00"/>
<use href="#wm" x="400" y="133.33"/>
<use href="#wm" x="400" y="266.67"/>
<use href="#wm" x="400" y="400.00"/>
</g>
</svg></body></html>
